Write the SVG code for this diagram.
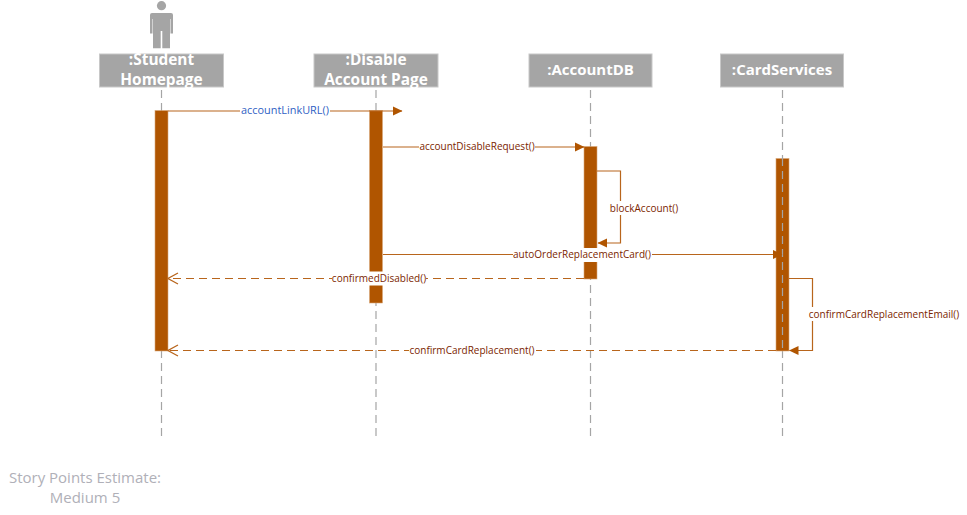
<svg xmlns="http://www.w3.org/2000/svg" width="967" height="515" viewBox="0 0 967 515">
<style>
.box{fill:#a5a5a5;stroke:#c8c8c8;stroke-width:1}
.title{font:bold 15.400px "Open Sans","Noto Sans",sans-serif;fill:#fff;text-anchor:middle}
.title2{font-size:15px}
.life{stroke:#a5a5a5;stroke-width:1.2;stroke-dasharray:8 5;fill:none}
.bar{fill:#b05500;stroke:#d9a878;stroke-width:.6}
.msg{stroke:#b8651c;stroke-width:1.2;fill:none}
.dash{stroke-dasharray:8 5}
.lab{font:10px "Open Sans","Noto Sans",sans-serif;fill:#7b2500;text-anchor:middle}
.mask{fill:#fff}
.note{font:15px "Open Sans","Noto Sans",sans-serif;fill:#b0b0b8;text-anchor:middle}
</style>
<defs>
<marker id="solid" markerUnits="userSpaceOnUse" markerWidth="10" markerHeight="10" refX="9" refY="5" orient="auto"><path d="M0 0.500L9.500 5L0 9.500Z" fill="#b05500"/></marker>
<marker id="openL" markerUnits="userSpaceOnUse" markerWidth="12" markerHeight="14" refX="11" refY="7" orient="auto"><path d="M1 1.500L11 7L1 12.500" fill="none" stroke="#b8651c" stroke-width="1.200"/></marker>
</defs>
<g id="lifelines">
<line class="life" x1="161.500" y1="87" x2="161.500" y2="438" stroke-dashoffset="-3"/>
<line class="life" x1="376" y1="87" x2="376" y2="438" stroke-dashoffset="-3"/>
<line class="life" x1="590.500" y1="87" x2="590.500" y2="438" stroke-dashoffset="-3"/>
<line class="life" x1="782.500" y1="87" x2="782.500" y2="438" stroke-dashoffset="-3"/>
</g>
<g id="actor" fill="#a5a5a5">
<circle cx="161.500" cy="5.700" r="4.600"/>
<path d="M150 15Q150 13 152 13H171Q173 13 173 15V33.500H170.500V19H170V48.300H162.300V31H160.700V48.300H153V19H152.500V33.500H150Z"/>
</g>
<g id="student-homepage">
<rect class="box" x="99.500" y="54" width="124" height="33"/>
<text class="title" x="161.500" y="65">:Student</text>
<text class="title" x="161.500" y="85">Homepage</text>
<rect class="bar" x="155" y="110.500" width="13" height="240.500"/>
</g>
<g id="disable-account-page">
<rect class="box" x="314" y="54" width="124" height="33"/>
<text class="title" x="376" y="65">:Disable</text>
<text class="title" x="376" y="85">Account Page</text>
<rect class="bar" x="369.500" y="110.500" width="13" height="192.500"/>
</g>
<g id="account-db">
<rect class="box" x="529" y="54" width="123" height="33"/>
<text class="title title2" x="590.500" y="75">:AccountDB</text>
<rect class="bar" x="584" y="146.500" width="13" height="132.500"/>
</g>
<g id="card-services">
<rect class="box" x="720.500" y="54" width="123" height="33"/>
<text class="title title2" x="782" y="75">:CardServices</text>
<rect class="bar" x="776" y="158.500" width="13" height="192.500"/>
<line class="life" x1="782.500" y1="158" x2="782.500" y2="351"/>
</g>
<g id="connectors">
<path class="msg" d="M168 111H402" marker-end="url(#solid)"/>
<path class="msg" d="M383 147H584" marker-end="url(#solid)"/>
<path class="msg" d="M597 171H620.500V243H598" marker-end="url(#solid)"/>
<path class="msg" d="M383 254.500H782" marker-end="url(#solid)"/>
<path class="msg dash" d="M584 278.500H168" marker-end="url(#openL)"/>
<path class="msg" d="M789 278.500H812.500V350.500H789.500" marker-end="url(#solid)"/>
<path class="msg dash" d="M776 350.500H168" marker-end="url(#openL)"/>
<rect class="mask" x="240" y="103" width="90" height="15"/>
<text x="285" y="114" class="lab" style="fill:#2f5fc4;font-size:10.900px">accountLinkURL()</text>
<rect class="mask" x="419" y="140" width="116" height="14"/>
<text x="477" y="150" class="lab">accountDisableRequest()</text>
<rect class="mask" x="609" y="201" width="71" height="14"/>
<text x="644" y="212" class="lab">blockAccount()</text>
<rect class="mask" x="513" y="248" width="139" height="14"/>
<text x="582" y="258" class="lab">autoOrderReplacementCard()</text>
<rect class="mask" x="332" y="271.500" width="94" height="14"/>
<text x="379" y="282" class="lab">confirmedDisabled()</text>
<rect class="mask" x="808" y="307" width="152" height="14"/>
<text x="884" y="318" class="lab">confirmCardReplacementEmail()</text>
<rect class="mask" x="409" y="343.500" width="127" height="14"/>
<text x="472" y="354" class="lab">confirmCardReplacement()</text>
</g>
<text class="note" x="85" y="483">Story Points Estimate:</text>
<text class="note" x="85" y="503">Medium 5</text>
</svg>
